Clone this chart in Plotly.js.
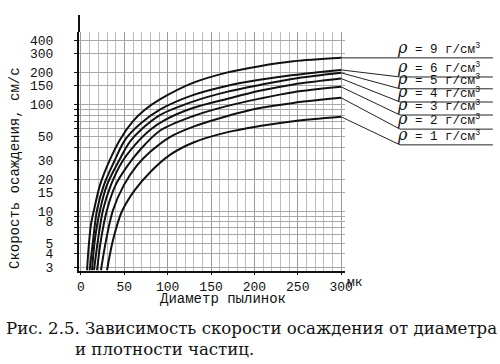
<!DOCTYPE html>
<html><head><meta charset="utf-8">
<script src="https://cdn.plot.ly/plotly-3.0.1.min.js"></script>
<style>html,body{margin:0;padding:0;background:#fff}#chart{width:500px;height:364px}</style>
</head><body><div id="chart"></div>
<script>
// Densities (г/см³) of the curves, top to bottom
const densities = [9, 6, 5, 4, 3, 2, 1];

// Particle diameter (мк) and settling velocity (см/с) for each density
const x_r9 = [7, 9, 11.5, 15, 22, 33, 45, 60, 74, 91, 129, 168, 206, 245, 300];
const y_r9 = [2.8, 4.8, 7.5, 10.3, 17.7, 30, 47, 70, 90, 112, 160, 200, 230, 255, 275];
const x_r6 = [10, 14, 18.5, 26.5, 38, 51, 68, 91, 129, 168, 206, 245, 300];
const y_r6 = [2.8, 5.4, 10.3, 17.7, 29, 47, 66, 90, 123, 150, 171, 190, 212];
const x_r5 = [12.7, 16, 22, 30, 43, 56.5, 74, 91, 129, 168, 206, 245, 300];
const y_r5 = [2.8, 5.4, 10.3, 17.7, 29, 45, 63, 80, 107, 132, 153, 175, 199];
const x_r4 = [15, 19.6, 25.4, 34.6, 47.3, 62.3, 79.6, 97, 129, 168, 206, 245, 300];
const y_r4 = [2.8, 5.4, 10.3, 17.7, 29, 42, 58, 72, 93, 113, 135, 155, 176];
const x_r3 = [18.5, 23, 30, 40, 54, 68, 91, 129, 168, 206, 245, 300];
const y_r3 = [2.8, 5.4, 10.3, 17.7, 27, 37.6, 57, 78, 97, 114, 131, 147];
const x_r2 = [23, 29, 37, 49.6, 64.6, 79.6, 103, 129, 168, 206, 245, 300];
const y_r2 = [2.8, 5.4, 10.3, 17.7, 27, 36, 50, 62, 78, 93, 104, 116];
const x_r1 = [30, 37, 47, 62, 80, 103, 129, 168, 206, 245, 300];
const y_r1 = [2.8, 5.4, 9.9, 15.8, 23.4, 34, 44, 55, 63, 70, 77];

// Axis ticks
const xTickVals = [0, 50, 100, 150, 200, 250, 300];
const yTickLabels = [3, 4, 5, 8, 10, 15, 20, 30, 50, 100, 150, 200, 300, 400];
const yGridVals = [3, 4, 5, 6, 7, 8, 9, 10, 15, 20, 30, 40, 50, 60, 70, 80, 90, 100, 150, 200, 300, 400];

// Velocity level (см/с) at which each density label is underlined
const labelLevels = [275, 182, 141, 106, 80, 59, 42];

const series = [[x_r9, y_r9], [x_r6, y_r6], [x_r5, y_r5], [x_r4, y_r4], [x_r3, y_r3], [x_r2, y_r2], [x_r1, y_r1]];

const xRange = [-2.3, 304.5];
const yRange = [0.440, 2.682];
const mono = 'Liberation Mono, Courier New, monospace';
const serif = 'DejaVu Serif, serif';

const traces = series.map((s) => ({
  x: s[0], y: s[1], type: 'scatter', mode: 'lines',
  line: {color: '#111', width: 2, shape: 'spline', smoothing: 0.9},
  hoverinfo: 'skip', showlegend: false
}));

const xPaper = v => (v - xRange[0]) / (xRange[1] - xRange[0]);
const shapes = [];
const annotations = [];
const slantEnd = 1.2068, underEnd = 1.556, textLeft = 1.19;
series.forEach((s, i) => {
  const xe = s[0][s[0].length - 1], ye = s[1][s[1].length - 1];
  shapes.push({type: 'line', xref: 'paper', yref: 'y', x0: xPaper(xe), y0: ye, x1: slantEnd, y1: labelLevels[i], line: {color: '#222', width: 1}});
  shapes.push({type: 'line', xref: 'paper', yref: 'y', x0: slantEnd, y0: labelLevels[i], x1: underEnd, y1: labelLevels[i], line: {color: '#222', width: 1}});
  annotations.push({xref: 'paper', yref: 'y', x: textLeft, y: Math.log10(labelLevels[i]), xanchor: 'left', yanchor: 'bottom',
    text: '<span style="font-family:DejaVu Serif;font-style:italic;font-size:16px">ρ</span> = ' + densities[i] + ' г/см<sup>3</sup>',
    showarrow: false, borderpad: 0, font: {family: mono, size: 12.5, color: '#111'}});
});
// y axis line extends above the grid
shapes.push({type: 'line', xref: 'paper', yref: 'paper', x0: 0, x1: 0, y0: 1, y1: 1.071, line: {color: '#111', width: 2}});

annotations.push({xref: 'paper', yref: 'paper', x: -0.2406, y: 0.431, xanchor: 'center', yanchor: 'middle', textangle: -90, showarrow: false,
  text: 'Скорость осаждения, см/с', font: {family: mono, size: 14, color: '#111'}});
annotations.push({xref: 'paper', yref: 'paper', x: 0.54, y: -0.117, xanchor: 'center', yanchor: 'middle', showarrow: false,
  text: 'Диаметр пылинок', font: {family: mono, size: 14, color: '#111'}});
annotations.push({xref: 'paper', yref: 'paper', x: 1.038, y: -0.05, xanchor: 'center', yanchor: 'middle', showarrow: false,
  text: 'мк', font: {family: mono, size: 13, color: '#111'}});
annotations.push({xref: 'paper', yref: 'paper', x: 0.647, y: -0.2385, xanchor: 'center', yanchor: 'middle', showarrow: false,
  text: 'Рис. 2.5. Зависимость скорости осаждения от диаметра', font: {family: serif, size: 16.6, color: '#111'}});
annotations.push({xref: 'paper', yref: 'paper', x: -0.0226, y: -0.3264, xanchor: 'left', yanchor: 'middle', showarrow: false,
  text: 'и плотности частиц.', font: {family: serif, size: 16.6, color: '#111'}});

const layout = {
  width: 500, height: 364,
  margin: {l: 79, r: 155, t: 32, b: 93},
  paper_bgcolor: '#fff', plot_bgcolor: '#fff',
  showlegend: false,
  xaxis: {
    range: xRange, tickvals: xTickVals, ticktext: xTickVals.map(String),
    showline: true, linecolor: '#111', linewidth: 2,
    ticks: 'outside', ticklen: 2, tickcolor: '#111',
    showgrid: true, gridcolor: '#9a9a9a', gridwidth: 1, zeroline: false,
    minor: {dtick: 10, showgrid: true, gridcolor: '#bdbdbd', gridwidth: 1, ticks: ''},
    tickfont: {family: mono, size: 13, color: '#111'}, ticklabelstandoff: 0
  },
  yaxis: {
    type: 'log', range: yRange,
    tickvals: yTickLabels, ticktext: yTickLabels.map(String),
    showline: true, linecolor: '#111', linewidth: 2,
    ticks: 'outside', ticklen: 3, tickcolor: '#111',
    showgrid: true, gridcolor: '#a8a8a8', gridwidth: 1, zeroline: false,
    minor: {tickmode: 'array', tickvals: yGridVals, showgrid: true, gridcolor: '#a8a8a8', gridwidth: 1, ticks: 'outside', ticklen: 3, tickcolor: '#111'},
    tickfont: {family: mono, size: 13, color: '#111'}, ticklabelstandoff: 18
  },
  shapes: shapes,
  annotations: annotations
};

Plotly.newPlot('chart', traces, layout, {staticPlot: true, displayModeBar: false});
</script>
</body></html>
